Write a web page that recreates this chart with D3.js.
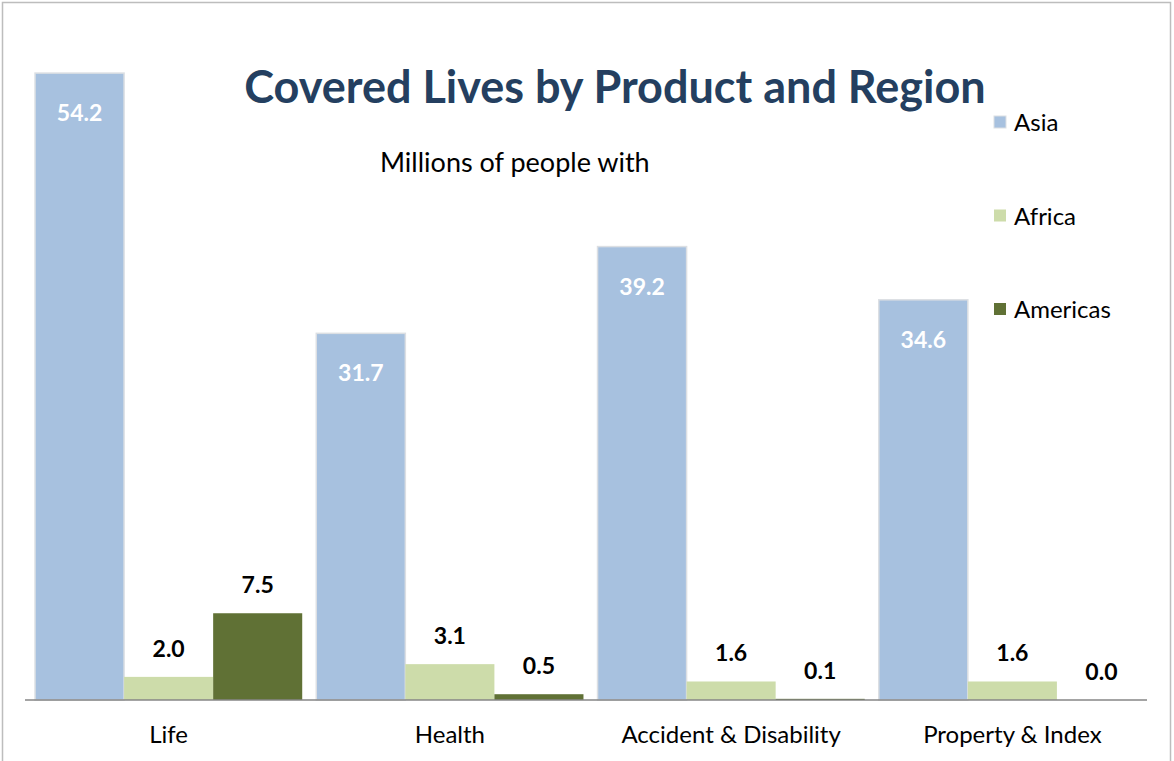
<!DOCTYPE html>
<html>
<head>
<meta charset="utf-8">
<script src="https://cdn.jsdelivr.net/npm/d3@7"></script>
<style>
  body { margin: 0; background: #fff; }
  svg { display: block; font-family: Lato, "Open Sans", sans-serif; }
</style>
</head>
<body>
<svg id="chart"></svg>
<script>
// data
const products = ["Life", "Health", "Accident & Disability", "Property & Index"];
const regions = ["Asia", "Africa", "Americas"];
const asia = [54.2, 31.7, 39.2, 34.6];
const africa = [2.0, 3.1, 1.6, 1.6];
const americas = [7.5, 0.5, 0.1, 0.0];
const colors = ["#a7c1df", "#cddcaa", "#607135"];

const width = 1174, height = 761;
const svg = d3.select("#chart").attr("width", width).attr("height", height);

// chart frame
svg.append("rect")
  .attr("x", 2.5).attr("y", 2.5)
  .attr("width", 1168).attr("height", 800)
  .attr("fill", "#fff").attr("stroke", "#bdbdbd").attr("stroke-width", 1.5);

var rows = products.map((p, i) => ({product: p, values: [asia[i], africa[i], americas[i]]}));

var x0 = d3.scaleBand().domain(products).range([28, 1153]).paddingInner(0.05).paddingOuter(0.025);
var x1 = d3.scaleBand().domain(regions).range([0, x0.bandwidth()]);
var y = d3.scaleLinear().domain([0, 60]).range([700, 6]);

var groups = svg.append("g").selectAll("g").data(rows).enter().append("g")
  .attr("transform", d => "translate(" + x0(d.product) + ",0)");

groups.selectAll("rect").data(d => d.values.map((v, i) => ({region: regions[i], value: v, i: i})))
  .enter().append("rect")
  .attr("x", d => x1(d.region))
  .attr("y", d => y(d.value))
  .attr("width", x1.bandwidth())
  .attr("height", d => y(0) - y(d.value))
  .attr("fill", d => colors[d.i])
  .attr("stroke", d => d.i == 0 ? "#dcdfe3" : "none")
  .attr("stroke-width", 1.5);

// value labels: Asia inside the bar, the rest above
groups.selectAll("text").data(d => d.values.map((v, i) => ({region: regions[i], value: v, i: i})))
  .enter().append("text")
  .attr("x", d => x1(d.region) + x1.bandwidth() / 2)
  .attr("y", d => d.i == 0 ? y(d.value) + 48 : y(d.value) - 20)
  .attr("text-anchor", "middle")
  .attr("font-size", 23).attr("font-weight", "bold")
  .attr("fill", d => d.i == 0 ? "#fff" : "#000")
  .text(d => d3.format(".1f")(d.value));

// x axis
var xAxis = svg.append("g").attr("transform", "translate(0,700)")
  .call(d3.axisBottom(x0).tickSize(0).tickPadding(26));
xAxis.select(".domain").attr("stroke", "#868686").attr("stroke-width", 1.5)
  .attr("d", "M25,0H1147");
xAxis.selectAll(".tick text").attr("font-size", 24).attr("fill", "#000")
  .attr("font-family", "Lato, 'Open Sans', sans-serif");

// title
svg.append("text")
  .attr("x", 615).attr("y", 103)
  .attr("text-anchor", "middle")
  .attr("font-size", 45).attr("font-weight", "bold")
  .attr("fill", "#243f60")
  .text("Covered Lives by Product and Region");

svg.append("text")
  .attr("x", 380).attr("y", 172)
  .attr("font-size", 27).attr("fill", "#000")
  .text("Millions of people with");

// legend
var legend = svg.append("g").selectAll("g").data(regions).enter().append("g")
  .attr("transform", (d, i) => "translate(994," + (122 + i * 93.5) + ")");
legend.append("rect")
  .attr("x", 0).attr("y", -6).attr("width", 12).attr("height", 12)
  .attr("fill", (d, i) => colors[i])
  .attr("stroke", (d, i) => i == 0 ? "#dcdfe3" : "none");
legend.append("text")
  .attr("x", 20).attr("y", 9)
  .attr("font-size", 24).attr("fill", "#000")
  .text(d => d);
</script>
</body>
</html>
